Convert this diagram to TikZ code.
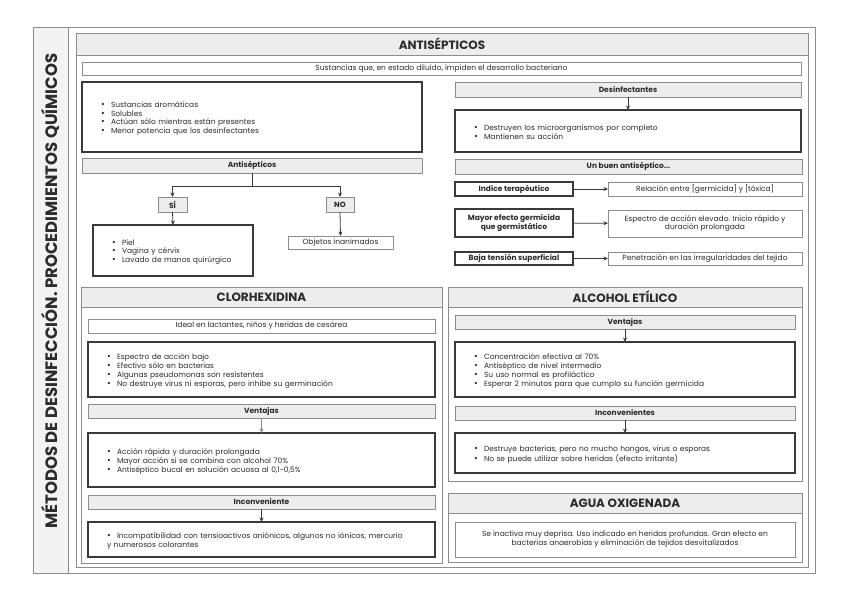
\documentclass[tikz,border=0pt]{standalone}
\usepackage{fontspec}
\setmainfont{Poppins}
\usetikzlibrary{arrows.meta,positioning,calc}
\definecolor{ink}{HTML}{2B2B2B}
\definecolor{edge}{HTML}{8C8C8C}
\definecolor{dark}{HTML}{3A3A3A}
\definecolor{head}{HTML}{EDEDED}
\definecolor{strip}{HTML}{F3F3F3}
\newcommand{\body}{\fontsize{7.5}{8.8}\selectfont\hyphenpenalty=10000 }
\newcommand{\bulletmark}{{\fontsize{9}{8}\selectfont\textbullet}}
\newcommand{\li}[1]{\par\noindent\hangindent=10pt\hangafter=1\makebox[10pt][l]{\bulletmark}#1}
\tikzset{
  card/.style={draw=edge, line width=0.7pt, fill=white, text=ink, inner sep=0pt, outer sep=0pt,
               font=\body, align=center},
  darkcard/.style={card, draw=dark, line width=1.1pt},
  headbar/.style={card, fill=head, font=\body\bfseries},
  tab/.style={card, fill=head, line width=0.8pt, font=\fontsize{12}{13}\selectfont\bfseries},
  arr/.style={-{Stealth[length=4.5pt,width=4pt]}, dark, line width=0.8pt},
}
% box from its corners: [style]{name}{x1}{y1}{x2}{y2}{text}
\newcommand{\card}[7][card]{%
  \pgfmathsetmacro{\cardw}{#5-#3}\pgfmathsetmacro{\cardh}{#6-#4}%
  \node[#1, minimum width=\cardw pt, minimum height=\cardh pt] (#2) at ({(#3+#5)/2},{(#4+#6)/2}) {#7};}
% bullet box: {name}{x1}{y1}{x2}{y2}{items}
\newcommand{\listcard}[6]{%
  \pgfmathsetmacro{\cardw}{#4-#2}\pgfmathsetmacro{\cardh}{#5-#3}\pgfmathsetmacro{\cardt}{#4-#2-38}%
  \node[darkcard, align=left, text width=\cardt pt, minimum width=\cardw pt, minimum height=\cardh pt]
    (#1) at ({(#2+#4)/2},{(#3+#5)/2}) {#6};}
% panel with title bar: {name}{x1}{y1}{x2}{y2}{bar bottom}{title}
\newcommand{\panel}[7]{%
  \draw[edge, line width=0.8pt] (#2,#3) rectangle (#4,#5);
  \card[tab]{#1}{#2}{#3}{#4}{#6}{#7}}

\begin{document}
\begin{tikzpicture}[x=1pt,y=-1pt]
\useasboundingbox (0,0) rectangle (848,599);

% ---------- frame and side title
\fill[strip] (33,27) rectangle (68,573);
\draw[edge, line width=0.8pt] (33,27) rectangle (815,573);
\draw[edge, line width=0.8pt] (68,27) -- (68,573);
\node[rotate=90, text=ink, font=\fontsize{16.5}{18}\selectfont\bfseries] (title) at (50.5,291)
  {MÉTODOS DE DESINFECCIÓN. PROCEDIMIENTOS QUÍMICOS};

% ---------- antisépticos
\panel{antis}{76}{33}{808}{567}{55}{ANTISÉPTICOS}
\card{def}{82}{62}{801}{75}{Sustancias que, en estado diluido, impiden el desarrollo bacteriano}
\listcard{arom}{82}{82}{422}{152}{\li{Sustancias aromáticas}\li{Solubles}%
  \li{Actúan sólo mientras están presentes}\li{Menor potencia que los desinfectantes}}

\card[headbar]{desinf}{455}{82}{801}{97}{Desinfectantes}
\listcard{desinflist}{455}{110}{801}{152}{\li{Destruyen los microorganismos por completo}\li{Mantienen su acción}}
\draw[arr] (desinf.south) -- (desinflist.north);

\card[headbar]{usos}{82}{158}{422}{173}{Antisépticos}
\card[headbar]{si}{158}{197}{187}{212}{SÍ}
\card[headbar]{no}{326}{197}{354}{212}{NO}
\listcard{silist}{93}{225}{253}{276}{\li{Piel}\li{Vagina y cérvix}\li{Lavado de manos quirúrgico}}
\card{objetos}{288}{236}{393}{249}{Objetos inanimados}
\draw[arr] (usos.south) -- ++(0,13) coordinate (fork) -| (si.north);
\draw[arr] (fork) -| (no.north);
\draw[arr] (si.south) -- (silist.north);
\draw[arr] (no.south) -- (objetos.north);

\card[headbar]{buen}{455}{159}{802}{174}{Un buen antiséptico...}
\card[darkcard, font=\body\bfseries]{indice}{455}{182}{573}{196}{Indice terapéutico}
\card{relacion}{608}{182}{802}{196}{Relación entre [germicida] y [tóxica]}
\card[darkcard, font=\body\bfseries]{mayor}{455}{209}{573}{237}{Mayor efecto germicida\\que germistático}
\card{espectro}{608}{210}{802}{237}{Espectro de acción elevado. Inicio rápido y\\duración prolongada}
\card[darkcard, font=\body\bfseries]{baja}{455}{252}{573}{265}{Baja tensión superficial}
\card{penetra}{608}{252}{802}{265}{Penetración en las irregularidades del tejido}
\draw[arr] (indice) -- (relacion);
\draw[arr] (mayor) -- (espectro);
\draw[arr] (baja) -- (penetra);

% ---------- clorhexidina
\panel{clor}{81}{287}{442}{563}{307}{CLORHEXIDINA}
\card{ideal}{88}{319}{435}{333}{Ideal en lactantes, niños y heridas de cesárea}
\listcard{clorlist}{88}{342}{435}{397}{\li{Espectro de acción bajo}\li{Efectivo sólo en bacterias}%
  \li{Algunas pseudomonas son resistentes}\li{No destruye virus ni esporas, pero inhibe su germinación}}
\card[headbar]{clorvent}{88}{404}{435}{418}{Ventajas}
\listcard{clorventlist}{88}{433}{435}{487}{\li{Acción rápida y duración prolongada}%
  \li{Mayor acción si se combina con alcohol 70\%}\li{Antiséptico bucal en solución acuosa al 0,1-0,5\%}}
\card[headbar]{clorinc}{88}{495}{435}{509}{Inconveniente}
\listcard{clorinclist}{88}{522}{435}{557}{\li{Incompatibilidad con tensioactivos aniónicos, algunos no iónicos, mercurio\\y numerosos colorantes}}
\draw[arr, edge] (clorvent.south) -- (clorventlist.north);
\draw[arr] (clorinc.south) -- (clorinclist.north);

% ---------- alcohol etílico
\panel{alc}{448}{287}{802}{481}{307}{ALCOHOL ETÍLICO}
\card[headbar]{alcvent}{455}{315}{795}{329}{Ventajas}
\listcard{alcventlist}{455}{342}{795}{397}{\li{Concentración efectiva al 70\%}\li{Antiséptico de nivel intermedio}%
  \li{Su uso normal es profiláctico}\li{Esperar 2 minutos para que cumpla su función germicida}}
\card[headbar]{alcinc}{455}{406}{795}{420}{Inconvenientes}
\listcard{alcinclist}{455}{433}{795}{473}{\li{Destruye bacterias, pero no mucho hongos, virus o esporas}%
  \li{No se puede utilizar sobre heridas (efecto irritante)}}
\draw[arr] (alcvent.south) -- (alcventlist.north);
\draw[arr] (alcinc.south) -- (alcinclist.north);

% ---------- agua oxigenada
\panel{agua}{448}{493}{802}{562}{513}{AGUA OXIGENADA}
\card{aguatxt}{455}{522}{795}{557}{Se inactiva muy deprisa. Uso indicado en heridas profundas. Gran efecto en\\bacterias anaerobias y eliminación de tejidos desvitalizados}

\end{tikzpicture}
\end{document}
